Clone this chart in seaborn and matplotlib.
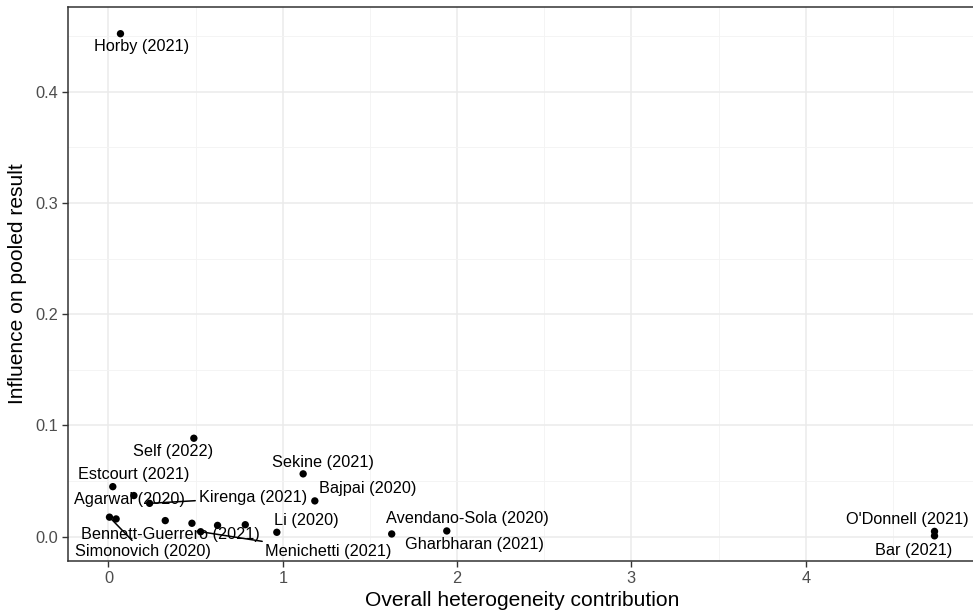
import matplotlib
matplotlib.use("Agg")
import matplotlib.pyplot as plt
import seaborn as sns
import pandas as pd
from matplotlib.ticker import MultipleLocator

studies = ["Horby (2021)", "Self (2022)", "Estcourt (2021)", "Agarwal (2020)",
           "Kirenga (2021)", "Sekine (2021)", "Bajpai (2020)", "Simonovich (2020)",
           "", "Bennett-Guerrero (2021)", "", "Menichetti (2021)", "", "",
           "Li (2020)", "Gharbharan (2021)", "Avendano-Sola (2020)",
           "O'Donnell (2021)", "Bar (2021)"]
heterogeneity = [0.069, 0.49, 0.025, 0.146, 0.236, 1.117, 1.184, 0.006,
                 0.044, 0.326, 0.479, 0.529, 0.626, 0.785, 0.966, 1.625,
                 1.941, 4.739, 4.739]
influence = [0.452, 0.0885, 0.045, 0.037, 0.030, 0.0565, 0.0322, 0.0176,
             0.0160, 0.0145, 0.0121, 0.0045, 0.0102, 0.0108, 0.0040, 0.0025,
             0.0052, 0.0048, 0.0008]

# label offsets in pixels (dx, dy) and whether a segment is drawn
label_offsets = {
    "Horby (2021)": (21, -13, False),
    "Self (2022)": (-21, -13, False),
    "Estcourt (2021)": (21, 12, False),
    "Agarwal (2020)": (-4, -4, False),
    "Kirenga (2021)": (103, 6, True),
    "Sekine (2021)": (20, 11, False),
    "Bajpai (2020)": (53, 12, False),
    "Simonovich (2020)": (33, -34, True),
    "Bennett-Guerrero (2021)": (5, -14, False),
    "Menichetti (2021)": (128, -20, True),
    "Li (2020)": (29, 12, False),
    "Gharbharan (2021)": (83, -11, False),
    "Avendano-Sola (2020)": (21, 12, False),
    "O'Donnell (2021)": (-27, 12, False),
    "Bar (2021)": (-21, -15, False),
}

df = pd.DataFrame({"study": studies, "het": heterogeneity, "infl": influence})

sns.set_theme(style="white")
plt.rcParams['font.family'] = ['Liberation Sans', 'DejaVu Sans']

fig = plt.figure(figsize=(9.73, 6.14), dpi=100)
W, H = 973, 614
ax = fig.add_axes([68 / W, (H - 561) / H, (976 - 68) / W, (561 - 7) / H])

ax.set_xlim(-0.232, 4.977)
ax.set_ylim(-0.0218, 0.476)
ax.xaxis.set_major_locator(MultipleLocator(1))
ax.xaxis.set_minor_locator(MultipleLocator(0.5))
ax.yaxis.set_major_locator(MultipleLocator(0.1))
ax.yaxis.set_minor_locator(MultipleLocator(0.05))
ax.grid(which="major", color="#EBEBEB", linewidth=1.1)
ax.grid(which="minor", color="#F3F3F3", linewidth=0.6)
ax.set_axisbelow(True)

sns.scatterplot(data=df, x="het", y="infl", ax=ax, color="black", s=28,
                edgecolor="none", zorder=3, legend=False)

for name, x, y in zip(studies, heterogeneity, influence):
    if not name:
        continue
    dx, dy, seg = label_offsets[name]
    kw = {}
    if seg:
        kw["arrowprops"] = dict(arrowstyle="-", color="black", lw=1.1,
                                shrinkA=0, shrinkB=2)
    ax.annotate(name, xy=(x, y), xytext=(dx, dy), textcoords="offset pixels",
                ha="center", va="center", fontsize=11.7, color="black",
                zorder=4, **kw)

ax.set_yticks([0.0, 0.1, 0.2, 0.3, 0.4])
ax.set_yticklabels(["0.0", "0.1", "0.2", "0.3", "0.4"])
ax.set_xticks([0, 1, 2, 3, 4])
ax.tick_params(axis="both", which="major", labelsize=11.8, labelcolor="#4D4D4D",
               length=4, width=1, color="#333333", direction="out",
               left=True, bottom=True, pad=3)
ax.tick_params(which="minor", length=0)

for sp in ax.spines.values():
    sp.set_color("#333333")
    sp.set_linewidth(1.1)

ax.set_xlabel("Overall heterogeneity contribution", fontsize=15.1, color="black", labelpad=4)
ax.set_ylabel("Influence on pooled result", fontsize=15.1, color="black", labelpad=6)

fig.savefig("out.png", dpi=100)
